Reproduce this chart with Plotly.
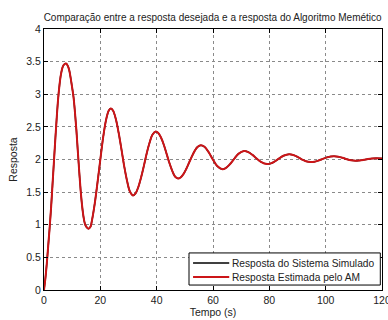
import plotly.graph_objects as go

tempo = [0, 0.5, 1, 1.5, 2, 2.5, 3, 3.5, 4, 4.5, 5, 5.5, 6, 6.5, 7, 7.8,
         8.5, 9, 9.5, 10, 10.5, 11, 11.5, 12, 12.5, 13, 13.5, 14, 14.5, 15, 15.8,
         16.5, 17, 18, 19, 20, 21, 22, 23, 23.7,
         24.5, 25.5, 26.5, 27.5, 28.5, 29.5, 30.5, 31.6,
         32.5, 33.5, 34.5, 35.5, 36.5, 37.5, 38.5, 39.7,
         40.5, 41.5, 42.5, 43.5, 44.5, 45.5, 46.5, 47.6,
         48.5, 49.5, 50.5, 51.5, 52.5, 53.5, 54.5, 55.7,
         57, 58.5, 60, 61.5, 63.3,
         64.5, 66, 67.5, 69, 71,
         72.5, 74, 75.5, 77, 79.2,
         80.5, 82, 83.5, 85, 87,
         88.5, 90, 91.5, 93, 94.6,
         96, 97.5, 99, 100.5, 102.9,
         104.5, 106, 107.5, 109, 110.6,
         112, 113.5, 115, 116.5, 118, 120]

resposta_simulado = [0, 0.18, 0.41, 0.68, 0.95, 1.25, 1.6, 1.95, 2.3, 2.63, 2.92, 3.14, 3.3, 3.4, 3.45, 3.47,
                     3.43, 3.36, 3.24, 3.1, 2.95, 2.72, 2.45, 2.13, 1.82, 1.53, 1.3, 1.13, 1.02, 0.97, 0.94,
                     0.97, 1.06, 1.32, 1.65, 2.0, 2.34, 2.6, 2.75, 2.78,
                     2.75, 2.62, 2.41, 2.155, 1.89, 1.67, 1.51, 1.45,
                     1.48, 1.58, 1.73, 1.91, 2.10, 2.26, 2.38, 2.43,
                     2.41, 2.34, 2.23, 2.09, 1.95, 1.83, 1.74, 1.71,
                     1.725, 1.776, 1.855, 1.95, 2.047, 2.132, 2.193, 2.22,
                     2.194, 2.109, 1.997, 1.899, 1.85,
                     1.867, 1.927, 2.01, 2.086, 2.13,
                     2.114, 2.071, 2.015, 1.964, 1.93,
                     1.94, 1.973, 2.017, 2.057, 2.08,
                     2.069, 2.04, 2.003, 1.973, 1.96,
                     1.966, 1.985, 2.009, 2.033, 2.05,
                     2.043, 2.026, 2.004, 1.987, 1.98,
                     1.985, 1.995, 2.007, 2.016, 2.02, 2.015]

resposta_estimada = list(resposta_simulado)

x_ticks = [0, 20, 40, 60, 80, 100, 120]
y_ticks = [0, 0.5, 1, 1.5, 2, 2.5, 3, 3.5, 4]

series_names = ["Resposta do Sistema Simulado", "Resposta Estimada pelo AM"]
series_colors = ["black", "#cc1518"]

font = "Liberation Sans, Arial, sans-serif"
txt = "#222"

fig = go.Figure()
fig.add_trace(go.Scatter(x=tempo, y=resposta_simulado, mode="lines", line_shape="spline",
                         name=series_names[0], line=dict(color=series_colors[0], width=1.5)))
fig.add_trace(go.Scatter(x=tempo, y=resposta_estimada, mode="lines", line_shape="spline",
                         name=series_names[1], line=dict(color=series_colors[1], width=2)))

axis_common = dict(showline=True, linecolor="black", linewidth=1, mirror="ticks",
                   ticks="inside", ticklen=4, tickcolor="black",
                   showgrid=True, gridcolor="#8a8a8a", griddash="dot", gridwidth=1,
                   zeroline=False, ticklabeloverflow="allow", automargin=False,
                   tickfont=dict(family=font, size=10.5, color=txt))

# Legend (MATLAB-style compact box), drawn in plot-area (paper) coordinates
box = dict(x0=0.429, x1=0.995, y0=0.019, y1=0.142)
rows_y = [0.1034, 0.0498]
shapes = [dict(type="rect", xref="paper", yref="paper", layer="above",
               fillcolor="white", line=dict(color="black", width=1), **box)]
annotations = []
for name, color, yy, w in zip(series_names, series_colors, rows_y, [1.5, 2]):
    shapes.append(dict(type="line", xref="paper", yref="paper", layer="above",
                       x0=0.441, x1=0.548, y0=yy, y1=yy, line=dict(color=color, width=w)))
    annotations.append(dict(text=name, xref="paper", yref="paper", x=0.551, y=yy,
                            xanchor="left", yanchor="middle", showarrow=False,
                            font=dict(family=font, size=10.2, color=txt)))

fig.update_layout(
    width=388, height=320,
    margin=dict(l=44, r=6, t=29, b=30),
    paper_bgcolor="white", plot_bgcolor="white",
    title=dict(text="Comparação entre a resposta desejada e a resposta do Algoritmo Memético",
               x=0.548, xanchor="center", y=0.945, yanchor="middle",
               font=dict(family=font, size=10, color=txt)),
    xaxis=dict(range=[0, 120], tickvals=x_ticks,
               title=dict(text="Tempo (s)", standoff=2, font=dict(family=font, size=10.5, color=txt)),
               **axis_common),
    yaxis=dict(range=[0, 4], tickvals=y_ticks,
               title=dict(text="Resposta", standoff=6, font=dict(family=font, size=10.5, color=txt)),
               **axis_common),
    shapes=shapes,
    annotations=annotations,
    showlegend=False,
)

fig.write_html("out.html", config={"displayModeBar": False},
               post_script="document.body.style.margin='0';document.body.style.overflow='hidden';")
